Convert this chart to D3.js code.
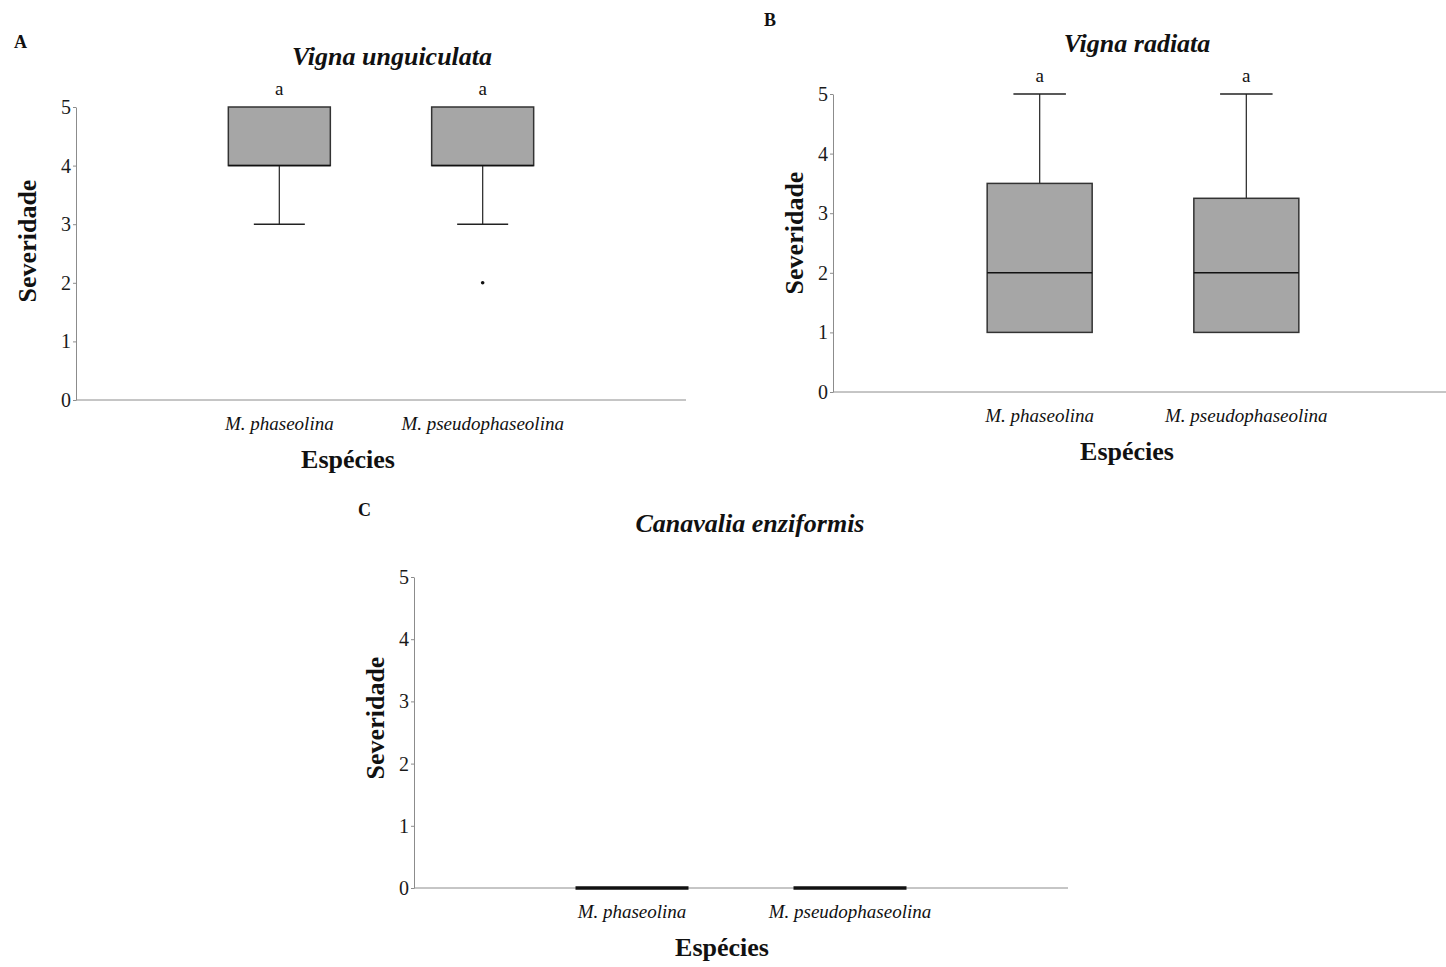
<!DOCTYPE html>
<html>
<head>
<meta charset="utf-8">
<title>Severidade por espécie</title>
<script src="https://d3js.org/d3.v7.min.js"></script>
<style>
  body { margin: 0; background: #fff; }
  svg text { font-family: "Liberation Serif", "Times New Roman", serif; fill: #111; }
  .axis path, .axis line { stroke: #8c8c8c; }
  .axis text { font-size: 20px; fill: #1a1a1a; }
</style>
</head>
<body>
<svg id="chart" width="1446" height="967"></svg>
<script>
// data
var species = ["M. phaseolina", "M. pseudophaseolina"];
var yTicks = [0, 1, 2, 3, 4, 5];
var letters = ["a", "a"];

// box stats per species: [lower whisker, q1, median, q3, upper whisker]
var unguiculataStats = [[3, 4, 4, 5, 5], [3, 4, 4, 5, 5]];
var unguiculataOutliers = [[], [2]];
var radiataStats = [[1, 1, 2, 3.5, 5], [1, 1, 2, 3.25, 5]];
var radiataOutliers = [[], []];
var enziformisStats = [[0, 0, 0, 0, 0], [0, 0, 0, 0, 0]];
var enziformisOutliers = [[], []];

// panel layout (pixel geometry)
var panels = [
  {tag: "A", title: "Vigna unguiculata", stats: unguiculataStats, outliers: unguiculataOutliers, letters: letters,
   x0: 76, x1: 686, yTop: 107, yBot: 400, tagX: 14, tagY: 48, titleX: 392, titleY: 65,
   yLabX: 36, yLabY: 241, xLabX: 348, boxW: 102},
  {tag: "B", title: "Vigna radiata", stats: radiataStats, outliers: radiataOutliers, letters: letters,
   x0: 833, x1: 1453, yTop: 94, yBot: 392, tagX: 764, tagY: 26, titleX: 1137, titleY: 52,
   yLabX: 803, yLabY: 233, xLabX: 1127, boxW: 105},
  {tag: "C", title: "Canavalia enziformis", stats: enziformisStats, outliers: enziformisOutliers, letters: null,
   x0: 414, x1: 1068, yTop: 577, yBot: 888, tagX: 358, tagY: 516, titleX: 750, titleY: 532,
   yLabX: 384, yLabY: 718, xLabX: 722, boxW: 113}
];

var svg = d3.select("#chart");

panels.forEach(function(p) {
  var g = svg.append("g");

  var x = d3.scalePoint().domain(species).range([p.x0, p.x1]).padding(1);
  var y = d3.scaleLinear().domain([0, 5]).range([p.yBot, p.yTop]);

  // panel letter
  g.append("text").attr("x", p.tagX).attr("y", p.tagY)
    .style("font-size", "18px").style("font-weight", "bold").text(p.tag);

  // title
  g.append("text").attr("x", p.titleX).attr("y", p.titleY)
    .attr("text-anchor", "middle")
    .style("font-size", "26px").style("font-weight", "bold").style("font-style", "italic")
    .text(p.title);

  // y axis
  g.append("g").attr("class", "axis")
    .attr("transform", "translate(" + p.x0 + ",0)")
    .call(d3.axisLeft(y).tickValues(yTicks).tickFormat(d3.format("d"))
      .tickSize(3).tickSizeOuter(0).tickPadding(2));

  // x axis: just the baseline, labels below
  g.append("line")
    .attr("x1", p.x0).attr("x2", p.x1)
    .attr("y1", p.yBot).attr("y2", p.yBot)
    .attr("stroke", "#8c8c8c");

  g.selectAll(".cat").data(species).enter().append("text")
    .attr("x", function(d) { return x(d); })
    .attr("y", p.yBot + 30)
    .attr("text-anchor", "middle")
    .style("font-size", "19px").style("font-style", "italic")
    .text(function(d) { return d; });

  // axis titles
  g.append("text").attr("x", p.xLabX).attr("y", p.yBot + 68)
    .attr("text-anchor", "middle")
    .style("font-size", "26px").style("font-weight", "bold").text("Espécies");

  g.append("text")
    .attr("transform", "translate(" + p.yLabX + "," + p.yLabY + ") rotate(-90)")
    .attr("text-anchor", "middle")
    .style("font-size", "26px").style("font-weight", "bold").text("Severidade");

  // boxes
  var bw = p.boxW;
  var box = g.selectAll(".box").data(p.stats).enter().append("g")
    .attr("transform", function(d, i) { return "translate(" + x(species[i]) + ",0)"; });

  // whiskers
  box.append("line")
    .attr("y1", function(d) { return y(d[3]); }).attr("y2", function(d) { return y(d[4]); })
    .attr("stroke", "#333").attr("stroke-width", 1.3);
  box.append("line")
    .attr("y1", function(d) { return y(d[1]); }).attr("y2", function(d) { return y(d[0]); })
    .attr("stroke", "#333").attr("stroke-width", 1.3);
  box.filter(function(d) { return d[4] > d[3]; }).append("line")
    .attr("x1", -bw / 4).attr("x2", bw / 4)
    .attr("y1", function(d) { return y(d[4]); }).attr("y2", function(d) { return y(d[4]); })
    .attr("stroke", "#222").attr("stroke-width", 1.5);
  box.filter(function(d) { return d[0] < d[1]; }).append("line")
    .attr("x1", -bw / 4).attr("x2", bw / 4)
    .attr("y1", function(d) { return y(d[0]); }).attr("y2", function(d) { return y(d[0]); })
    .attr("stroke", "#222").attr("stroke-width", 1.5);

  box.filter(function(d) { return d[3] > d[1]; }).append("rect")
    .attr("x", -bw / 2).attr("width", bw)
    .attr("y", function(d) { return y(d[3]); })
    .attr("height", function(d) { return y(d[1]) - y(d[3]); })
    .attr("fill", "#a6a6a6").attr("stroke", "#333").attr("stroke-width", 1.5);

  // median
  box.append("line")
    .attr("x1", -bw / 2).attr("x2", bw / 2)
    .attr("y1", function(d) { return y(d[2]); }).attr("y2", function(d) { return y(d[2]); })
    .attr("stroke", "#111")
    .attr("stroke-width", function(d) { return d[3] > d[1] ? 1.5 : 3.5; });

  // outliers
  p.outliers.forEach(function(vals, i) {
    g.selectAll(null).data(vals).enter().append("circle")
      .attr("cx", x(species[i])).attr("cy", function(v) { return y(v); })
      .attr("r", 1.8).attr("fill", "#111");
  });

  // significance letters
  if (p.letters) {
    box.append("text")
      .attr("y", function(d) { return y(d[4]) - 12; })
      .attr("text-anchor", "middle")
      .style("font-size", "19px")
      .text(function(d, i) { return p.letters[i]; });
  }
});
</script>
</body>
</html>
